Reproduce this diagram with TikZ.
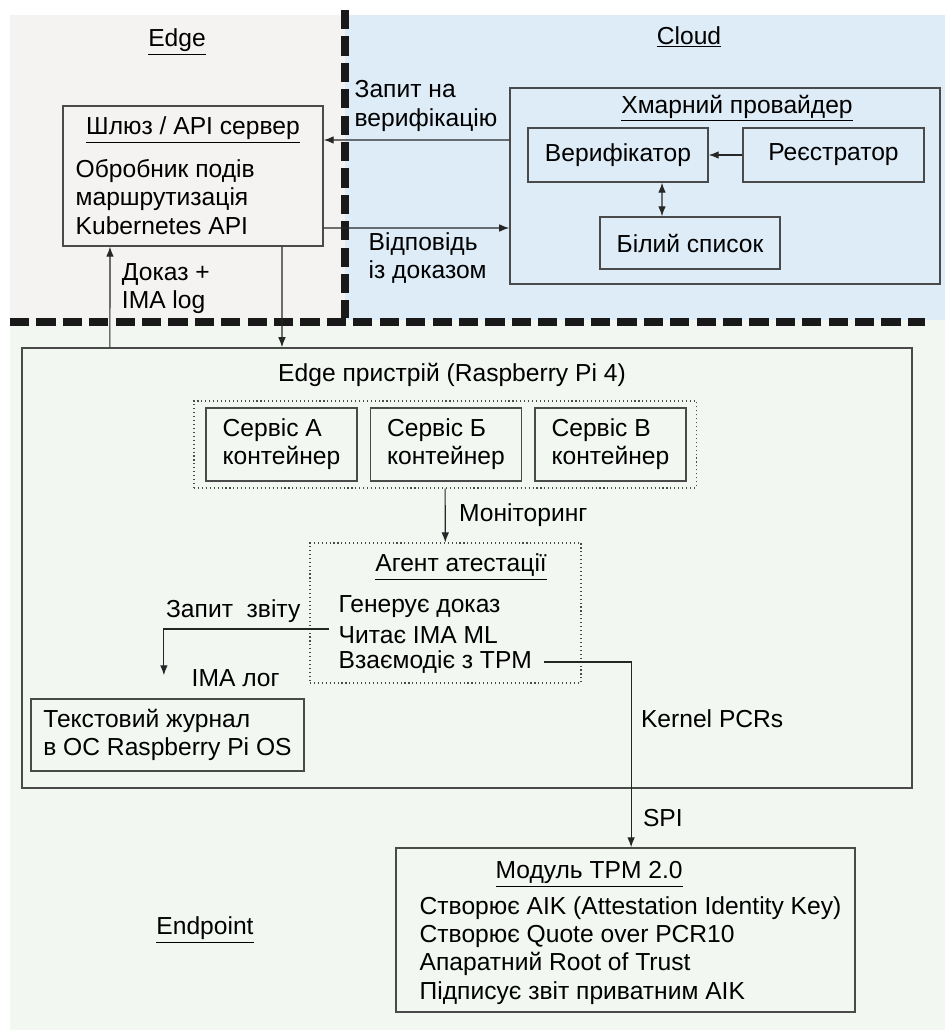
\documentclass[tikz,border=0pt]{standalone}
\usepackage{fontspec}
\setmainfont{Liberation Sans}
\usetikzlibrary{arrows.meta,positioning}
\definecolor{edgepale}{HTML}{F5F3F1}
\definecolor{cloudpale}{HTML}{DDECF6}
\definecolor{endpale}{HTML}{F2F7F2}
\definecolor{boxline}{HTML}{4A4A4A}

\tikzset{
  blk/.style={draw=boxline,line width=1pt},
  grp/.style={draw=boxline,line width=0.8pt,dotted},
  conn/.style={->,line width=0.8pt,draw=black!85},
  zonesep/.style={line width=0.2cm,black!90,dash pattern=on 0.48cm off 0.18cm},
  txt/.style={anchor=west}
}

\begin{document}
\begin{tikzpicture}[x=0.025cm,y=-0.025cm,>={Latex[length=0.25cm,width=0.19cm]},
    every node/.style={align=left,inner sep=1pt,text=black,font=\fontsize{17.5}{20}\selectfont}]
  \useasboundingbox (0,0) rectangle (945,1030);
  % zones
  \fill[edgepale] (10,15) rectangle (345,320);
  \fill[cloudpale] (345,15) rectangle (945,320);
  \fill[endpale] (10,320) rectangle (945,1030);
  \draw[zonesep] (345,10) -- (345,318);
  \draw[zonesep] (10,322) -- (925,322);
  \node (edgelbl) at (177,42) {\underline{Edge}};
  \node (cloudlbl) at (689,37) {\underline{Cloud}};
  \node (endlbl) at (205,930) {\underline{Endpoint}};

  % gateway
  \node[blk,minimum width=6.5cm,minimum height=3.5cm] (gw) at (193,176) {};
  \node[below=0.25cm of gw.north] (gwttl) {\underline{Шлюз / API сервер}};
  \node[txt] (gwtxt) at (74,197) {Обробник подів\\маршрутизація\\Kubernetes API};

  % cloud provider
  \node[blk,minimum width=10.75cm,minimum height=4.9cm] (cp) at (725,186) {};
  \node[below=0.15cm of cp.north,xshift=0.3cm] (cpttl) {\underline{Хмарний провайдер}};
  \node[blk,minimum width=4.5cm,minimum height=1.35cm] (ver) at (618,155) {Верифікатор};
  \node[blk,minimum width=4.525cm,minimum height=1.35cm] (reg) at (833.5,155) {Реєстратор};
  \node[blk,minimum width=4.5cm,minimum height=1.3cm] (wl) at (690,243) {Білий список};
  \draw[conn] (reg) -- (ver);
  \draw[conn,<->] ([xshift=1.1cm]ver.south) -- ([xshift=-0.7cm]wl.north);

  \draw[conn] ([yshift=1.15cm]cp.west) -- ([yshift=0.9cm]gw.east);
  \draw[conn] ([yshift=-1.3cm]gw.east) -- ([yshift=-1.05cm]cp.west);
  \node[txt] (reqlbl) at (353,106) {Запит на\\верифікацію};
  \node[txt] (resplbl) at (367,258) {Відповідь\\із доказом};

  % edge device
  \node[blk,minimum width=22.25cm,minimum height=11cm] (dev) at (467,568) {};
  \node[below=0.35cm of dev.north,xshift=-0.375cm] (devttl) {Edge пристрій (Raspberry Pi 4)};
  \draw[conn] ([xshift=-8.925cm]dev.north) --
    node[pos=0.58,right=0.25cm] (prooflbl) {Доказ +\\IMA log} ([xshift=-2.075cm]gw.south);
  \draw[conn] ([xshift=2.225cm]gw.south) -- ([xshift=-4.625cm]dev.north);

  \node[grp,minimum width=12.55cm,minimum height=2.175cm] (svc) at (445,444.5) {};
  \node[blk,minimum width=3.775cm,minimum height=1.825cm] (sa) at (281.5,444.5) {Сервіс А\\контейнер};
  \node[blk,minimum width=3.775cm,minimum height=1.825cm,right=0.3cm of sa] (sb) {Сервіс Б\\контейнер};
  \node[blk,minimum width=3.775cm,minimum height=1.825cm,right=0.3cm of sb] (sc) {Сервіс В\\контейнер};

  % attestation agent
  \node[grp,minimum width=6.775cm,minimum height=3.5cm] (ag) at (445.5,613) {};
  \draw[conn] (svc) -- node[right=0.3cm] (monlbl) {Моніторинг} (ag);
  \node[below=0.25cm of ag.north,xshift=0.39cm] (agttl) {\underline{Агент атестації}};
  \node[txt] (ag1) at (337,607) {Генерує доказ};
  \node[txt] (ag2) at (337,635) {Читає IMA ML};
  \node[txt] (ag3) at (337,662) {Взаємодіє з TPM};

  \node[blk,minimum width=6.825cm,minimum height=1.8cm] (log) at (167.5,735)
    {Текстовий журнал\\в ОС Raspberry Pi OS};
  \draw[conn,shorten >=0.575cm] ([xshift=-0.2cm,yshift=0.15cm]ag2.west) -|
    node[pos=0.29,above=0.1cm] (replbl) {Запит\ \ звіту} ([xshift=-0.09cm]log.north);
  \node[txt] (imalbl) at (190,678) {IMA лог};

  % tpm
  \node[blk,minimum width=11.475cm,minimum height=4.1cm] (tpm) at (625.5,930) {};
  \node[below=0.32cm of tpm.north,xshift=-0.91cm] (tpmttl) {\underline{Модуль TPM 2.0}};
  \node[txt] (tpmtxt) at (418,950.5) {Створює AIK (Attestation Identity Key)\\Створює Quote over PCR10\\
    Апаратний Root of Trust\\Підписує звіт приватним AIK};
  \draw[conn] ([xshift=0.25cm]ag3.east) -|
    node[pos=0.653,right=0.2cm] (pcrlbl) {Kernel PCRs}
    node[pos=0.92,right=0.25cm] (spilbl) {SPI} ([xshift=0.14cm]tpm.north);
\end{tikzpicture}
\end{document}
